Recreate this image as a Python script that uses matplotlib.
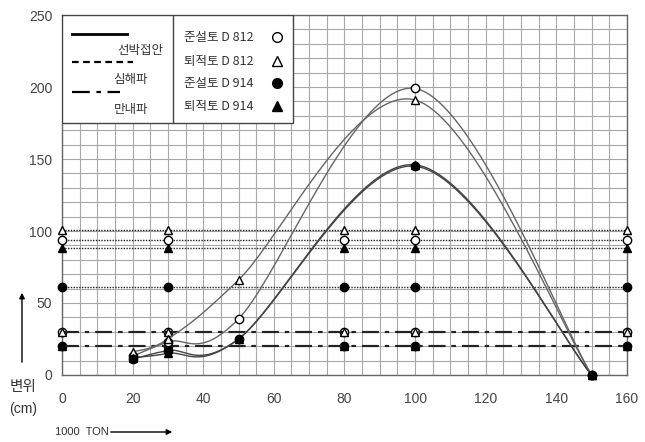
import numpy as np
import matplotlib.pyplot as plt
from matplotlib.patches import Rectangle, FancyArrowPatch
from matplotlib.lines import Line2D

plt.rcParams['font.family'] = ['Liberation Sans Narrow', 'Liberation Sans', 'Noto Sans CJK KR', 'DejaVu Sans']
KR = ['Noto Sans CJK KR', 'DejaVu Sans']

# 선박접안 (solid curves)
curve_x = [20, 30, 50, 100, 150]
d812_jun = [13, 23, 39, 199, 0]     # 준설토 D812  o
d812_toe = [16, 25, 66, 191, 0]     # 퇴적토 D812  ^ open
d914_jun = [11, 17, 25, 145, 0]     # 준설토 D914  o filled
d914_toe = [12, 15, 25, 146, 0]     # 퇴적토 D914  ^ filled

# 심해파 / 만내파 (constant lines)
flat_x = [0, 30, 80, 100, 160]
deep = {'d812_jun': 94, 'd812_toe': 101, 'd914_jun': 61, 'd914_toe': 88}
bay = {'d812_jun': 30, 'd812_toe': 30, 'd914_jun': 20, 'd914_toe': 20}

series_labels = ['준설토 D 812', '퇴적토 D 812', '준설토 D 914', '퇴적토 D 914']
case_labels = ['선박접안', '심해파', '만내파']

style = {
    'd812_jun': dict(marker='o', mfc='white'),
    'd812_toe': dict(marker='^', mfc='white'),
    'd914_jun': dict(marker='o', mfc='black'),
    'd914_toe': dict(marker='^', mfc='black'),
}


def excel_smooth(xs, ys, n=40):
    # bezier smoothing like a spreadsheet "smoothed line"
    p = np.column_stack([xs, ys]).astype(float)
    pts = np.vstack([p[0], p, p[-1]])
    out = []
    t = np.linspace(0, 1, n)[:, None]
    for i in range(1, len(pts) - 2):
        p0, p3 = pts[i], pts[i + 1]
        c1 = p0 + (pts[i + 1] - pts[i - 1]) / 6
        c2 = p3 - (pts[i + 2] - pts[i]) / 6
        seg = ((1 - t) ** 3) * p0 + 3 * ((1 - t) ** 2) * t * c1 + 3 * (1 - t) * t ** 2 * c2 + t ** 3 * p3
        out.append(seg)
    s = np.vstack(out)
    return s[:, 0], s[:, 1]


fig = plt.figure(figsize=(6.45, 4.42), dpi=100)
ax = fig.add_axes([0.0961, 0.1516, 0.8759, 0.8144])

ax.set_xlim(0, 160)
ax.set_ylim(0, 250)
ax.set_xticks(np.arange(0, 161, 20))
ax.set_yticks(np.arange(0, 251, 50))
ax.set_xticks(np.arange(0, 161, 5), minor=True)
ax.set_yticks(np.arange(0, 251, 10), minor=True)
ax.grid(which='both', color='#a8a8a8', lw=0.8)
ax.tick_params(which='both', direction='in', length=0, colors='#444444', labelsize=10)
ax.tick_params(axis='x', pad=12)
ax.tick_params(axis='y', pad=7)
for sp in ax.spines.values():
    sp.set_color('#666666')
    sp.set_linewidth(1)
ax.set_axisbelow(True)

# constant lines
for key, val in deep.items():
    ax.plot(flat_x, [val] * len(flat_x), color='#222222', lw=1.0, ls=(0, (1, 1)),
            ms=6, mec='black', clip_on=False, **style[key], zorder=3)
for key, val in bay.items():
    ax.plot(flat_x, [val] * len(flat_x), color='#222222', lw=1.5, ls=(0, (8, 3, 2, 3)),
            ms=6, mec='black', clip_on=False, **style[key], zorder=3)

# smoothed curves
for key, ys, col in [('d812_jun', d812_jun, '#666666'), ('d812_toe', d812_toe, '#666666'),
                     ('d914_jun', d914_jun, '#444444'), ('d914_toe', d914_toe, '#444444')]:
    sx, sy = excel_smooth(curve_x, ys)
    ax.plot(sx, sy, color=col, lw=1.0, zorder=4)
    ax.plot(curve_x, ys, ls='none', ms=6, mec='black', clip_on=False, **style[key], zorder=5)

# legend box
T = ax.transAxes
ax.add_patch(Rectangle((0, 0.70), 0.409, 0.30, transform=T, facecolor='white',
                       edgecolor='#444444', lw=1, zorder=6))
ax.add_line(Line2D([0.196, 0.196], [0.70, 1.0], transform=T, color='#444444', lw=1, zorder=7))


def fy(py):
    return (375 - py) / 360.0


def fx(px):
    return (px - 62) / 565.0


ax.add_line(Line2D([fx(72), fx(127)], [fy(34)] * 2, transform=T, color='black', lw=2, zorder=7))
ax.add_line(Line2D([fx(72), fx(133)], [fy(62)] * 2, transform=T, color='black', lw=1.6,
                   ls=(0, (3, 2)), zorder=7))
ax.add_line(Line2D([fx(72), fx(120)], [fy(92)] * 2, transform=T, color='black', lw=1.6,
                   ls=(0, (8, 3, 2, 3)), zorder=7))
for lab, py, px in zip(case_labels, [50, 79, 109], [163, 148, 148]):
    ax.text(fx(px), fy(py), lab, transform=T, ha='right', va='center', fontsize=9,
            family=KR, color='#333333', zorder=8)

for i, (lab, key) in enumerate(zip(series_labels, ['d812_jun', 'd812_toe', 'd914_jun', 'd914_toe'])):
    py = [37, 61, 83, 106][i]
    ax.text(fx(184), fy(py), lab, transform=T, ha='left', va='center', fontsize=9,
            family=KR, color='#333333', zorder=8)
    ax.add_line(Line2D([fx(277)], [fy(py)], transform=T, ls='none', ms=7, mec='black',
                       zorder=8, **style[key]))

# axis captions
fig.text(0.036, 1 - 387 / 442, '변위', ha='center', va='center', fontsize=10.5, family=KR, color='#333333')
fig.text(0.036, 1 - 409 / 442, '(cm)', ha='center', va='center', fontsize=10, color='#333333')
fig.text(55 / 645, 1 - 432 / 442, '1000  TON', ha='left', va='center', fontsize=8, color='#333333')
fig.add_artist(FancyArrowPatch((22 / 645, 1 - 365 / 442), (22 / 645, 1 - 290 / 442),
               transform=fig.transFigure, arrowstyle='-|>', mutation_scale=8, color='black', lw=1))
fig.add_artist(FancyArrowPatch((108 / 645, 1 - 432 / 442), (175 / 645, 1 - 432 / 442),
               transform=fig.transFigure, arrowstyle='-|>', mutation_scale=8, color='black', lw=1))

fig.savefig('out.png', dpi=100)
